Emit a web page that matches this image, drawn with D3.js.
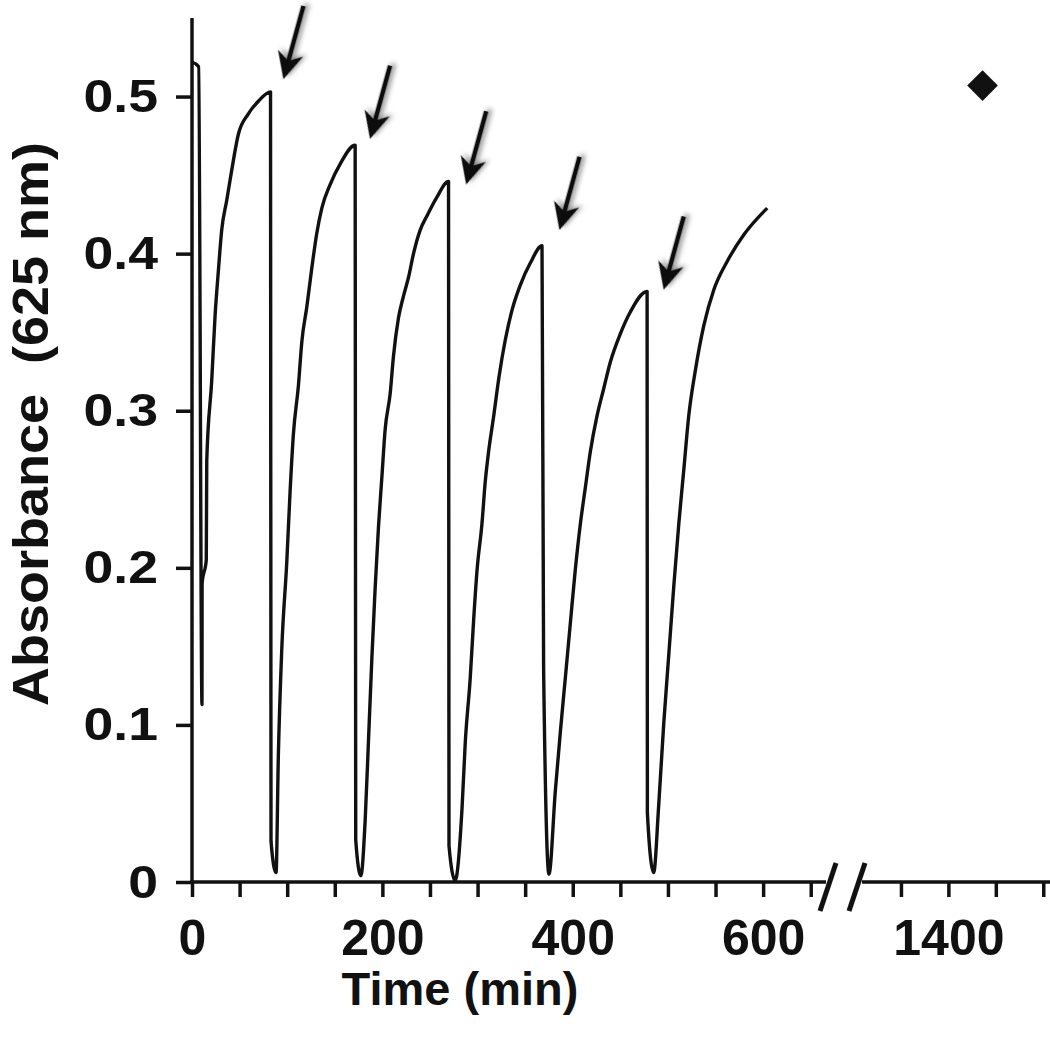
<!DOCTYPE html>
<html lang="en">
<head>
  <meta charset="UTF-8">
  <title>Absorbance vs Time</title>
  <style>
    body {
      margin: 0;
      padding: 0;
      background-color: white;
    }
    svg {
      display: block;
      font-family: "Liberation Sans", Arial, sans-serif;
      font-weight: bold;
    }
  </style>
  <script src="https://d3js.org/d3.v7.min.js"></script>
</head>
<body>
  <div id="chart"></div>
  <script>
    // absorbance trace (time in min, absorbance at 625 nm)
    const curveTime = [0, 7, 10.5, 10.6, 15, 15.5, 20.7, 24.2, 27.7, 31.2, 36.5, 41.7, 48.7, 59.2, 69.7, 82.5,
      83, 88.3,
      90.7, 94.3, 99.6, 103, 106.5, 111.8, 115.4, 120.6, 125.9, 131.1, 136.4, 145.1, 155.6, 171.4,
      172, 177.4,
      181.9, 185.4, 189, 192.4, 195.9, 199.5, 202.9, 208.2, 211.7, 216.9, 222.2, 227.5, 232.7, 239.7, 246.8, 257.3, 269.5,
      270, 276.5,
      283.6, 287.1, 292.3, 295.8, 299.4, 304.6, 308.1, 311.6, 316.8, 322.4, 329.1, 336.2, 344.9, 355.4, 367.7,
      369.4, 375,
      381.7, 386.9, 392.2, 397.5, 402.7, 408, 413.2, 418.5, 425.6, 432.5, 439.5, 450, 460.6, 478.1,
      478.4, 485,
      490.3, 495.6, 500.8, 506.1, 511.4, 516.6, 521.9, 528.9, 537.6, 548.2, 562.2, 579.7, 604.3];
    const curveAbs = [0.522, 0.519, 0.113, 0.19, 0.205, 0.268, 0.319, 0.36, 0.389, 0.415, 0.434, 0.453, 0.476, 0.489, 0.497, 0.503,
      0.026, 0.006,
      0.08, 0.148, 0.204, 0.248, 0.285, 0.316, 0.344, 0.366, 0.391, 0.413, 0.429, 0.444, 0.457, 0.469,
      0.027, 0.004,
      0.039, 0.09, 0.143, 0.187, 0.226, 0.258, 0.288, 0.311, 0.335, 0.359, 0.373, 0.385, 0.4, 0.415, 0.424, 0.436, 0.446,
      0.023, 0.001,
      0.046, 0.089, 0.13, 0.166, 0.198, 0.228, 0.255, 0.274, 0.296, 0.321, 0.345, 0.364, 0.38, 0.394, 0.405,
      0.135, 0.005,
      0.058, 0.095, 0.13, 0.165, 0.199, 0.228, 0.251, 0.274, 0.297, 0.314, 0.331, 0.349, 0.363, 0.376,
      0.044, 0.006,
      0.049, 0.101, 0.144, 0.188, 0.228, 0.262, 0.297, 0.326, 0.354, 0.377, 0.395, 0.412, 0.429];

    // single point measured after the break
    const pointTime = [1436];
    const pointAbs = [0.507];

    // arrows mark the additions (tip position)
    const arrowTime = [96, 187, 288, 386, 495.5];
    const arrowAbs = [0.511, 0.473, 0.444, 0.415, 0.377];

    const yTicks = [0, 0.1, 0.2, 0.3, 0.4, 0.5];
    const xTicksLeft = d3.range(0, 651, 50);
    const xTicksRight = [1350, 1400, 1450, 1500];
    const xLabels = [0, 200, 400, 600, 1400];

    const width = 1050, height = 1041;

    const svg = d3.select("#chart")
      .append("svg")
      .attr("width", width)
      .attr("height", height);

    const defs = svg.append("defs");
    const shadow = defs.append("filter")
      .attr("id", "shadow")
      .attr("x", "-50%").attr("y", "-50%")
      .attr("width", "200%").attr("height", "200%");
    shadow.append("feDropShadow")
      .attr("dx", 3).attr("dy", 3)
      .attr("stdDeviation", 2.5)
      .attr("flood-color", "#000")
      .attr("flood-opacity", 0.45);

    // broken x axis: two linear pieces
    const xLeft = d3.scaleLinear().domain([0, 665]).range([192, 825]);
    const xRight = d3.scaleLinear().domain([1310, 1505]).range([863, 1048]);
    const y = d3.scaleLinear().domain([0, 0.55]).range([882, 18]);

    const data = curveTime.map((t, i) => ({ t: t, v: curveAbs[i] }));

    const line = d3.line()
      .curve(d3.curveMonotoneX)
      .x(d => xLeft(d.t))
      .y(d => y(d.v));

    svg.append("path")
      .datum(data)
      .attr("d", line)
      .attr("fill", "none")
      .attr("stroke", "#111")
      .attr("stroke-width", 3.4)
      .attr("stroke-linejoin", "round");

    // y axis
    const yAxis = svg.append("g")
      .attr("transform", "translate(192,0)")
      .call(d3.axisLeft(y).tickValues(yTicks).tickSize(16).tickPadding(18)
        .tickFormat(d => d === 0 ? "0" : d3.format(".1f")(d)));
    yAxis.select(".domain").attr("d", "M0,18V883");

    // x axis left part
    const xAxisL = svg.append("g")
      .attr("transform", "translate(0,882)")
      .call(d3.axisBottom(xLeft).tickValues(xTicksLeft).tickSize(15).tickPadding(22)
        .tickFormat(d => xLabels.includes(d) ? d : ""));
    xAxisL.select(".domain").attr("d", "M190,0H826");

    // x axis right part
    const xAxisR = svg.append("g")
      .attr("transform", "translate(0,882)")
      .call(d3.axisBottom(xRight).tickValues(xTicksRight).tickSize(15).tickPadding(22)
        .tickFormat(d => xLabels.includes(d) ? d : ""));
    xAxisR.select(".domain").attr("d", "M862,0H1050");

    svg.selectAll(".tick line, .domain")
      .attr("stroke", "#111")
      .attr("stroke-width", 3.5);

    // y tick labels are a little wider than the plain font
    yAxis.selectAll(".tick text")
      .attr("font-size", 47)
      .attr("font-weight", "bold")
      .attr("font-family", "Liberation Sans, Arial, sans-serif")
      .attr("fill", "#111")
      .attr("x", 0)
      .attr("transform", "translate(-34,0) scale(1.14,1)");

    [xAxisL, xAxisR].forEach(g => g.selectAll(".tick text")
      .attr("font-size", 50)
      .attr("font-weight", "bold")
      .attr("font-family", "Liberation Sans, Arial, sans-serif")
      .attr("fill", "#111"));

    // axis break marks
    const breakX = [828, 857];
    svg.selectAll(".break")
      .data(breakX)
      .enter()
      .append("line")
      .attr("class", "break")
      .attr("x1", d => d + 8)
      .attr("y1", 863)
      .attr("x2", d => d - 8)
      .attr("y2", 911)
      .attr("stroke", "#111")
      .attr("stroke-width", 5);

    // diamond marker
    svg.selectAll(".point")
      .data(pointTime)
      .enter()
      .append("path")
      .attr("class", "point")
      .attr("d", d3.symbol(d3.symbolSquare, 470))
      .attr("transform", (d, i) => `translate(${xRight(d)},${y(pointAbs[i])}) rotate(45)`)
      .attr("fill", "#111");

    // arrows, tail up and to the right of the tip
    const arrowAngle = Math.atan2(-73, 20) * 180 / Math.PI;
    const arrows = svg.selectAll(".arrow")
      .data(arrowTime)
      .enter()
      .append("g")
      .attr("class", "arrow")
      .attr("filter", "url(#shadow)")
      .attr("transform", (d, i) => `translate(${xLeft(d)},${y(arrowAbs[i])}) rotate(${arrowAngle})`);

    arrows.append("line")
      .attr("x1", 16).attr("y1", 0)
      .attr("x2", 76).attr("y2", 0)
      .attr("stroke", "#111")
      .attr("stroke-width", 4.5);

    arrows.append("path")
      .attr("d", "M0,0 L27,-13 L19,0 L27,13 Z")
      .attr("fill", "#111");

    // axis titles
    svg.append("text")
      .attr("transform", "translate(48,424) rotate(-90) scale(1.08,1)")
      .attr("text-anchor", "middle")
      .attr("font-size", 50)
      .attr("fill", "#111")
      .style("white-space", "pre")
      .text("Absorbance  (625 nm)");

    svg.append("text")
      .attr("x", 460)
      .attr("y", 1005)
      .attr("text-anchor", "middle")
      .attr("font-size", 47)
      .attr("fill", "#111")
      .text("Time (min)");
  </script>
</body>
</html>
